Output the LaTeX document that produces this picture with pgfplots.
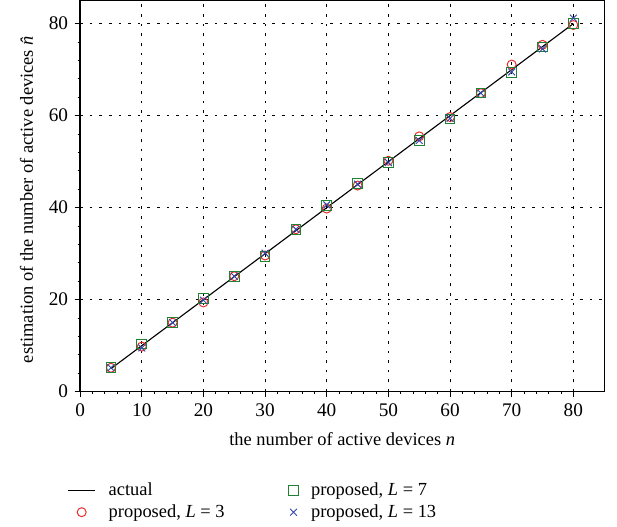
\documentclass[border=0pt]{standalone}
\usepackage{pgfplots}
\pgfplotsset{compat=1.18}
\usepackage{fontspec}
\setmainfont{Liberation Serif}

\definecolor{cred}{RGB}{230,40,40}
\definecolor{cgreen}{RGB}{30,130,50}
\definecolor{cblue}{RGB}{50,70,170}

\begin{document}
\fontsize{11.5}{14}\selectfont
\begin{tikzpicture}
\begin{axis}[
    scale only axis,
    width=327pt, height=244pt,
    xmin=0, xmax=85, ymin=0, ymax=85,
    xtick={0,10,...,80}, ytick={0,20,...,80},
    minor x tick num=4, minor y tick num=4,
    xtick pos=left, ytick pos=left,
    tick align=outside,
    major tick length=3.5pt, minor tick length=1.5pt,
    grid=major,
    major grid style={black, dash pattern=on 1.6pt off 4.4pt, line width=0.6pt},
    axis line style={line width=0.8pt},
    tick style={black, line width=0.6pt},
    /pgf/number format/assume math mode=true,
    tick label style={font=\fontsize{12}{14}\selectfont},
    xlabel={the number of active devices \textit{n}},
    ylabel={estimation of the number of active devices \textit{\^{n}}},
    ylabel shift=2pt,
    xlabel shift=2pt,
    label style={font=\fontsize{11.5}{14}\selectfont},
    legend columns=2,
    transpose legend,
    legend style={draw=none, fill=none, at={(-0.034,-0.215)}, anchor=north west,
        font=\fontsize{11.5}{14}\selectfont, row sep=0pt,
        /tikz/column 1/.append style={column sep=6pt},
        /tikz/column 2/.append style={column sep=38pt},
        /tikz/column 3/.append style={column sep=6pt}},
    legend cell align=left,
]
\addplot[black, line width=0.7pt, no markers] coordinates {(5,5) (80,80)};
\addlegendentry{actual}
\addplot[only marks, mark=o, mark size=2.8pt, color=cred, mark options={draw=cred, line width=0.6pt}] coordinates {
(5,5.2) (10,9.8) (15,15.0) (20,19.4) (25,25.1) (30,29.6) (35,35.3) (40,39.8)
(45,44.8) (50,50.2) (55,55.5) (60,59.7) (65,64.9) (70,71.1) (75,75.4) (80,79.7)};
\addlegendentry{proposed, \textit{L} = 3}
\addplot[only marks, mark=square, mark size=3pt, color=cgreen, mark options={draw=cgreen, line width=0.6pt}] coordinates {
(5,5.2) (10,10.4) (15,15.0) (20,20.2) (25,25.1) (30,29.4) (35,35.3) (40,40.5)
(45,45.2) (50,49.8) (55,54.6) (60,59.3) (65,64.9) (70,69.4) (75,74.9) (80,80.0)};
\addlegendentry{proposed, \textit{L} = 7}
\addplot[only marks, mark=x, mark size=3pt, color=cblue, mark options={draw=cblue, line width=0.6pt}] coordinates {
(5,5.2) (10,9.5) (15,15.0) (20,19.9) (25,25.1) (30,30.1) (35,35.3) (40,40.6)
(45,45.1) (50,49.8) (55,54.6) (60,59.4) (65,64.9) (70,69.5) (75,74.5) (80,81.2)};
\addlegendentry{proposed, \textit{L} = 13}
\end{axis}
\path (current axis.south east) ++(8pt,0pt);
\path (current axis.south west) ++(-50pt,0pt);
\end{tikzpicture}
\end{document}
